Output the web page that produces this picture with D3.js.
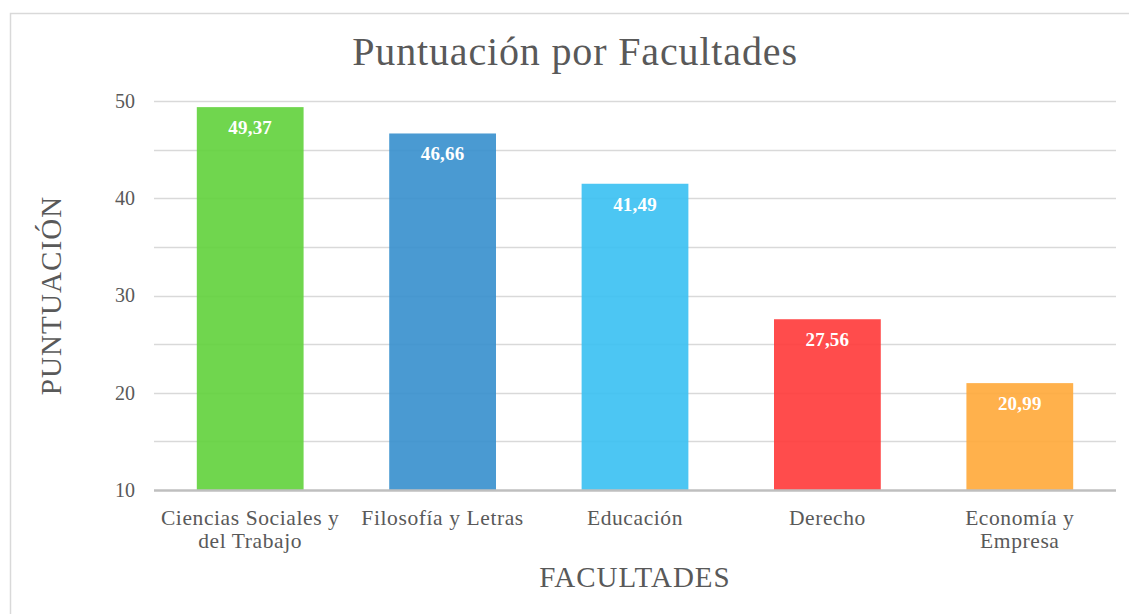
<!DOCTYPE html>
<html>
<head>
<meta charset="utf-8">
<script src="https://cdn.jsdelivr.net/npm/d3@7"></script>
<style>
  body { margin: 0; background: #fff; }
  svg { display: block; font-family: "Liberation Serif", "Times New Roman", serif; }
</style>
</head>
<body>
<div id="chart"></div>
<script>
// data
var facultades = ["Ciencias Sociales y del Trabajo", "Filosofía y Letras", "Educación", "Derecho", "Economía y Empresa"];
var tickLabels = [["Ciencias Sociales y", "del Trabajo"], ["Filosofía y Letras"], ["Educación"], ["Derecho"], ["Economía y", "Empresa"]];
var puntuacion = [49.37, 46.66, 41.49, 27.56, 20.99];
var barColors = ["#60d13b", "#368fcd", "#38c0f2", "#ff3838", "#ffa938"];
var yTicks = [10, 20, 30, 40, 50];

var W = 1129, H = 614;
var margin = { top: 101, right: 13, bottom: 124, left: 154 },
    w = W - margin.left - margin.right,
    h = H - margin.top - margin.bottom;

var svg = d3.select("#chart").append("svg").attr("width", W).attr("height", H);

// chart border
svg.append("rect").attr("x", 10.5).attr("y", 13.5).attr("width", W).attr("height", H)
  .attr("fill", "none").attr("stroke", "#d9d9d9").attr("stroke-width", 1.5);

var x = d3.scaleBand().domain(facultades).range([0, w]).paddingInner(0.445).paddingOuter(0.2225);
var y = d3.scaleLinear().domain([10, 50]).range([h, 0]);

var g = svg.append("g").attr("transform", "translate(" + margin.left + "," + margin.top + ")");

// gridlines every 5
g.append("g").selectAll("line").data(d3.range(15, 51, 5)).join("line")
  .attr("x1", 0).attr("x2", w)
  .attr("y1", function (d) { return Math.round(y(d)) + 0.5; })
  .attr("y2", function (d) { return Math.round(y(d)) + 0.5; })
  .attr("stroke", "#d9d9d9").attr("stroke-width", 1.5);

// y axis labels
var yAxis = d3.axisLeft(y).tickValues(yTicks).tickSize(0).tickPadding(19);
var ya = g.append("g").call(yAxis);
ya.select(".domain").remove();
ya.selectAll("text").attr("font-size", 20).attr("fill", "#595959")
  .attr("font-family", "Liberation Serif, serif");

// bars
g.selectAll("rect.bar").data(puntuacion).join("rect").attr("class", "bar")
  .attr("x", function (d, i) { return x(facultades[i]); })
  .attr("width", x.bandwidth())
  .attr("y", function (d) { return y(d); })
  .attr("height", function (d) { return h - y(d); })
  .attr("fill", function (d, i) { return barColors[i]; })
  .attr("fill-opacity", 0.9);

// value labels
g.selectAll("text.val").data(puntuacion).join("text").attr("class", "val")
  .attr("x", function (d, i) { return x(facultades[i]) + x.bandwidth() / 2; })
  .attr("y", function (d) { return y(d) + 27; })
  .attr("text-anchor", "middle").attr("font-size", 19).attr("font-weight", "bold")
  .attr("fill", "#fff").attr("letter-spacing", 0.2)
  .text(function (d) { return d.toFixed(2).replace(".", ","); });

// x axis baseline
g.append("line").attr("x1", 0).attr("x2", w).attr("y1", h + 0.5).attr("y2", h + 0.5)
  .attr("stroke", "#bfbfbf").attr("stroke-width", 2.5);

// x tick labels
var xl = g.append("g").selectAll("text").data(facultades).join("text")
  .attr("x", function (d) { return x(d) + x.bandwidth() / 2; })
  .attr("y", h + 35)
  .attr("text-anchor", "middle").attr("font-size", 21.5).attr("fill", "#595959")
  .attr("letter-spacing", 0.6);
xl.each(function (d, i) {
  d3.select(this).selectAll("tspan").data(tickLabels[i]).join("tspan")
    .attr("x", x(d) + x.bandwidth() / 2)
    .attr("dy", function (t, j) { return j === 0 ? 0 : 23; })
    .text(function (t) { return t; });
});

// title
svg.append("text").attr("x", 575).attr("y", 65).attr("text-anchor", "middle")
  .attr("font-size", 40).attr("fill", "#595959").attr("letter-spacing", 0.85)
  .text("Puntuación por Facultades");

// axis titles
svg.append("text").attr("x", margin.left + w / 2).attr("y", 587).attr("text-anchor", "middle")
  .attr("font-size", 29).attr("fill", "#595959").attr("letter-spacing", 1).text("FACULTADES");

svg.append("text").attr("transform", "translate(61," + (margin.top + h / 2) + ") rotate(-90)")
  .attr("text-anchor", "middle").attr("font-size", 29).attr("fill", "#595959")
  .attr("letter-spacing", 1.1).text("PUNTUACIÓN");
</script>
</body>
</html>
